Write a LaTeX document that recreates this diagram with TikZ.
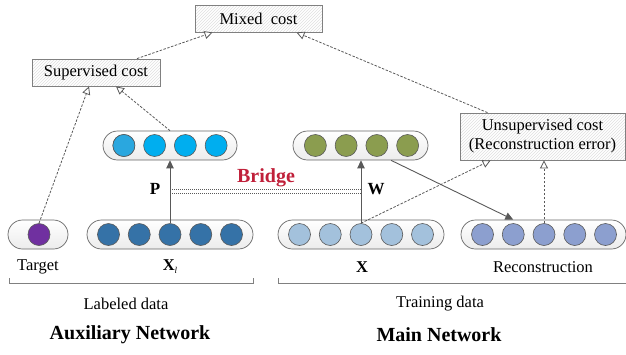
\documentclass[tikz,border=0pt]{standalone}
\usepackage{fontspec}
\setmainfont{Liberation Serif}
\usetikzlibrary{shapes,positioning,calc,patterns,arrows.meta}

\definecolor{linegray}{HTML}{595959}
\definecolor{hidblue}{HTML}{00AEEF}
\definecolor{hidblueA}{HTML}{2AA7DF}
\definecolor{olive}{HTML}{8B9D4F}
\definecolor{purp}{HTML}{7030A0}
\definecolor{deepblue}{HTML}{3572A7}
\definecolor{paleblue}{HTML}{A3C1DC}
\definecolor{recblue}{HTML}{8C9FCF}
\definecolor{bridgered}{HTML}{C0203A}

\tikzset{
  costbox/.style={draw=gray, line width=0.8pt, pattern=north east lines, pattern color=gray!25, inner sep=2pt},
  pill/.style={rounded rectangle, draw=gray!80!black, line width=0.7pt, top color=white, bottom color=gray!15, minimum height=29pt, inner sep=0pt},
  unit/.style={circle, draw=linegray, line width=0.6pt, minimum size=22pt, inner sep=0pt},
  feed/.style={draw=linegray, line width=0.9pt, -{Triangle[length=8pt, width=7.5pt]}},
  cost/.style={draw=linegray, line width=0.8pt, dash pattern=on 2.5pt off 1.5pt, -{Triangle[open, length=8pt, width=8pt, fill=white]}},
  bridge/.style={draw=linegray, line width=0.6pt, dash pattern=on 1.2pt off 0.8pt},
  bigbold/.style={font=\fontsize{20}{24}\selectfont\bfseries}
}

\begin{document}
\begin{tikzpicture}[x=1pt, y=-1pt, font=\fontsize{16.5}{19}\selectfont]
    \useasboundingbox (0,0) rectangle (626,354);

    % Costs
    \node[costbox, minimum width=127, minimum height=27] (mix) at (258.5,18.5) {Mixed~ cost};
    \node[costbox, minimum width=128, minimum height=27] (sup) at (96,72.5) {Supervised cost};
    \node[costbox, minimum width=165, minimum height=47, align=center] (uns) at (542.5,136.5) {Unsupervised cost\\(Reconstruction error)};

    % Hidden layers
    \node[pill, minimum width=134] (hid) at (170,145.5) {};
    \foreach \i in {1,...,4}
        \node[unit, fill=hidblue] (h\i) at ({170+30.75*(\i-2.5)},145.5) {};
    \node[unit, fill=hidblueA] at (h1) {};
    \node[pill, minimum width=135] (grn) at (360.5,145.5) {};
    \foreach \i in {1,...,4}
        \node[unit, fill=olive] (g\i) at ({361.5+30.75*(\i-2.5)},145.5) {};

    % Input layers
    \node[pill, minimum width=60] (tgp) at (38,234.5) {};
    \node[unit, fill=purp] (tg) at (39,234.5) {};
    \node[pill, minimum width=166] (xlp) at (170,234.5) {};
    \foreach \i in {1,...,5}
        \node[unit, fill=deepblue] (xl\i) at ({170+30.75*(\i-3)},234.5) {};
    \node[pill, minimum width=166] (xp) at (361,234.5) {};
    \foreach \i in {1,...,5}
        \node[unit, fill=paleblue] (x\i) at ({361+30.75*(\i-3)},234.5) {};
    \node[pill, minimum width=165] (rec) at (543.5,234.5) {};
    \foreach \i in {1,...,5}
        \node[unit, fill=recblue] (r\i) at ({544+30.75*(\i-3)},234.5) {};

    % Layer labels
    \node (tgl) at (38,267) {Target};
    \node (xll) at (170,267) {\bfseries X\raisebox{-3pt}{\mdseries\itshape\small l}};
    \node (xlab) at (362,267) {\bfseries X};
    \node (recl) at (543,267) {Reconstruction};

    % Weights and bridge
    \draw[feed] (xl3.north) -- (xl3 |- hid.south);
    \draw[feed] (x3.north) -- (x3 |- grn.south);
    \node[font=\fontsize{17}{20}\selectfont\bfseries] (pw) at (155,189) {P};
    \node[font=\fontsize{17}{20}\selectfont\bfseries] (ww) at (376,189) {W};
    \coordinate (bp) at (170,191.5);
    \coordinate (bw) at (361,191.5);
    \draw[bridge] ([yshift=-2]bp) -- ([yshift=-2]bw);
    \draw[bridge] ([yshift=2]bp) -- ([yshift=2]bw);
    \node[bigbold, text=bridgered] (brg) at (266,178) {Bridge};
    \draw[feed] (grn) -- (r2 |- rec.north);

    % Cost links
    \draw[cost] (tg.north) -- ([xshift=-7]sup.south);
    \draw[cost] (hid.north) -- ([xshift=20]sup.south);
    \draw[cost] ([xshift=41]sup.north) -- ([xshift=-46]mix.south);
    \draw[cost] ([xshift=-55]uns.north) -- ([xshift=38]mix.south);
    \draw[cost] (x3.north) -- ([xshift=31]uns.south west);
    \draw[cost] (r3.north) -- (r3.north |- uns.south);

    % Data brackets
    \draw[gray, line width=0.8pt] (9,278) -- (9,283) -- (253,283) -- (253,278);
    \draw[gray, line width=0.8pt] (278,278) -- (278,283) -- (626,283);
    \node (lbd) at (126,304) {Labeled data};
    \node (trd) at (440,304) {Training data};
    \node[bigbold] (aux) at (130,335) {Auxiliary Network};
    \node[bigbold] (mainnet) at (439,335) {Main Network};
\end{tikzpicture}
\end{document}
